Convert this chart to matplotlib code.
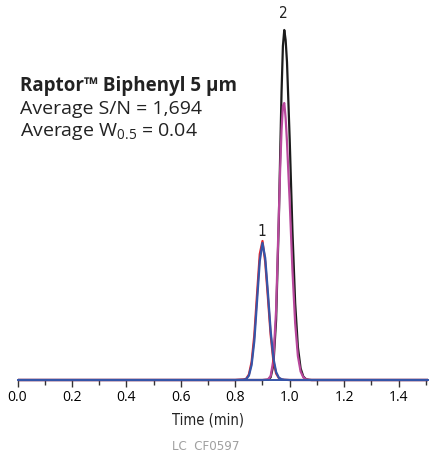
import matplotlib
matplotlib.use("Agg")
import matplotlib.pyplot as plt
from matplotlib.ticker import MultipleLocator
import numpy as np

plt.rcParams['font.family'] = ['Open Sans', 'DejaVu Sans']
plt.rcParams['mathtext.fontset'] = 'custom'
plt.rcParams['mathtext.rm'] = 'Open Sans'

# Traces (time in min, signal in arbitrary units)
peak1_time = [0.0, 0.80, 0.83, 0.84, 0.85, 0.86, 0.87, 0.88, 0.89, 0.90, 0.91,
              0.92, 0.93, 0.94, 0.95, 0.96, 0.97, 0.98, 1.00, 1.508]
blue_signal = [0, 0, 0.3, 0.9, 4.3, 15, 39, 79, 119, 137, 122,
               87, 49, 22, 8, 2.3, 0.8, 0.3, 0, 0]
red_signal = [0, 0, 0.5, 1.2, 5.5, 18, 45, 86, 126, 139, 118,
              82, 45, 19, 6.5, 2, 0.5, 0.2, 0, 0]

peak2_time = [0.0, 0.90, 0.92, 0.93, 0.94, 0.95, 0.96, 0.965, 0.97, 0.975, 0.98,
              0.985, 0.99, 1.00, 1.01, 1.02, 1.03, 1.04, 1.05, 1.06, 1.07, 1.08, 1.508]
black_signal = [0, 0, 0.3, 2.7, 15, 60, 160, 226, 288, 334, 350,
                340, 318, 240, 149, 77, 33, 11.7, 3.4, 0.8, 0.2, 0, 0]
magenta_signal = [0, 0, 0.5, 4, 20, 70, 165, 212, 250, 274, 277,
                  262, 238, 178, 110, 57, 24, 8.5, 2.7, 0.7, 0.2, 0, 0]

peak_labels = ["1", "2"]
peak_label_pos = [(0.898, 148), (0.978, 367)]

tick_values = [0.0, 0.2, 0.4, 0.6, 0.8, 1.0, 1.2, 1.4]

narrow = dict(family=['DejaVu Sans'], fontstretch='condensed')

fig = plt.figure(figsize=(4.29, 4.54), dpi=100)
ax = fig.add_axes([17.5 / 429, 72 / 454, (428 - 17.5) / 429, 382 / 454])

ax.plot(peak2_time, black_signal, color='#1c1c1c', lw=1.6)
ax.plot(peak2_time, magenta_signal, color='#b8489c', lw=1.6)
ax.plot(peak1_time, red_signal, color='#e3242b', lw=1.6)
ax.plot(peak1_time, blue_signal, color='#3555a8', lw=1.6)

for lab, (x, y) in zip(peak_labels, peak_label_pos):
    ax.text(x, y, lab, ha='center', va='center', fontsize=11,
            color='#222222', **narrow)

ax.set_xlim(0, 1.508)
ax.set_ylim(-2, 380)
ax.set_xticks(tick_values)
ax.set_xticklabels(["%.1f" % v for v in tick_values], fontsize=13.5, **narrow)
ax.xaxis.set_minor_locator(MultipleLocator(0.1))
ax.tick_params(axis='x', which='major', length=5, width=1, color='#333333', pad=2)
ax.tick_params(axis='x', which='minor', length=3.5, width=1, color='#333333')
ax.set_yticks([])
for s in ['top', 'right', 'left']:
    ax.spines[s].set_visible(False)
ax.spines['bottom'].set_color('#3555a8')
ax.spines['bottom'].set_linewidth(1.4)
ax.spines['bottom'].set_position(('data', 0))

ax.set_xlabel("Time (min)", fontsize=10.5, color='#222222', **narrow)
ax.xaxis.set_label_coords((208 - 17.5) / 410.5, -0.08)

fig.text(20 / 429, 1 - 86 / 454, "Raptor™ Biphenyl 5 µm", fontsize=13.5,
         fontweight='bold', va='center', ha='left', color='#222222')
fig.text(20 / 429, 1 - 109 / 454, "Average S/N = 1,694", fontsize=14,
         va='center', ha='left', color='#222222')
fig.text(20 / 429, 1 - 132 / 454, r"Average W$_{\mathrm{0.5}}$ = 0.04", fontsize=14,
         va='center', ha='left', color='#222222')

fig.text(206 / 429, 1 - 447 / 454, "LC  CF0597", fontsize=9.5, color='#a0a0a0',
         ha='center', va='center', **narrow)

fig.savefig("out.png", dpi=100)
